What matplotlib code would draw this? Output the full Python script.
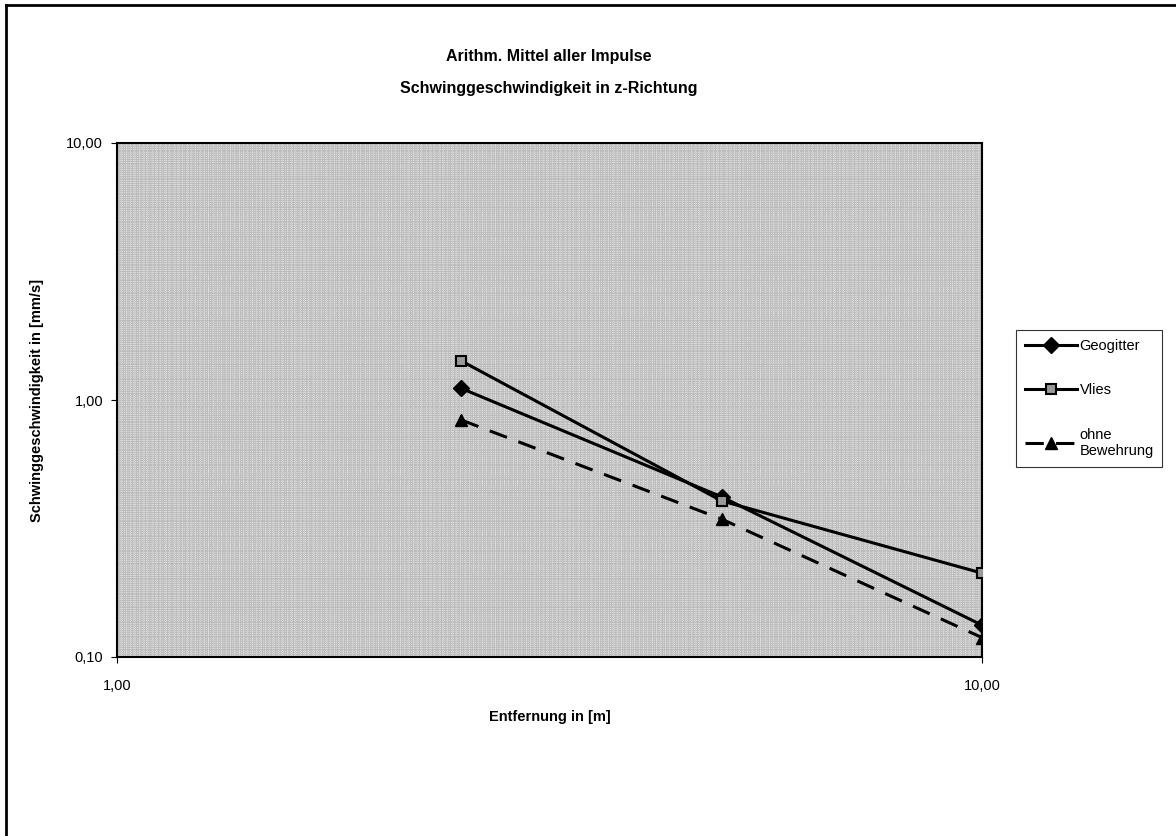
import numpy as np
import matplotlib.pyplot as plt
from matplotlib.lines import Line2D
from matplotlib.ticker import FixedLocator, NullFormatter

plt.rcParams['font.family'] = ['Liberation Sans', 'DejaVu Sans']

entfernung = [2.5, 5.0, 10.0]
geogitter = [1.11, 0.42, 0.133]
vlies = [1.42, 0.405, 0.212]
ohne = [0.836, 0.344, 0.119]
x_ticks = [1, 10]
x_labels = ['1,00', '10,00']
y_ticks = [0.1, 1, 10]
y_labels = ['0,10', '1,00', '10,00']

fig = plt.figure(figsize=(11.76, 8.36), dpi=100)
ax = fig.add_axes([117/1176, 1 - 657/836, 865/1176, 514/836])
ax.set_xscale('log')
ax.set_yscale('log')
ax.set_xlim(1, 10)
ax.set_ylim(0.1, 10)
ax.set_facecolor('#bdbdbd')

# dichtes, gleichmaessiges Raster wie im gerasterten Ausdruck
fx = 10 ** np.linspace(0, 1, 200)
fy = 10 ** np.linspace(-1, 1, 240)
ax.xaxis.set_minor_locator(FixedLocator(fx))
ax.yaxis.set_minor_locator(FixedLocator(fy))
ax.xaxis.set_minor_formatter(NullFormatter())
ax.yaxis.set_minor_formatter(NullFormatter())
ax.grid(True, which='minor', color='#ebebeb', lw=0.6, ls=':')
ax.grid(False, which='major')
ax.tick_params(which='minor', length=0)
ax.set_axisbelow(True)

ax.plot(entfernung, geogitter, color='black', lw=2.2, marker='D', ms=8,
        label='Geogitter', zorder=3)
ax.plot(entfernung, vlies, color='black', lw=2.2, marker='s', ms=7,
        mfc='#999999', mec='black', mew=1.5, label='Vlies', zorder=3)
ax.plot(entfernung, ohne, color='black', lw=2.2, ls=(0, (6, 4)), marker='^',
        ms=8, label='ohne\nBewehrung', zorder=3)

ax.set_xticks(x_ticks)
ax.set_xticklabels(x_labels)
ax.set_yticks(y_ticks)
ax.set_yticklabels(y_labels)
ax.tick_params(which='major', length=4, width=0.8, labelsize=10.5, direction='out')
ax.tick_params(axis='x', pad=12)
ax.tick_params(axis='y', pad=6)
for s in ax.spines.values():
    s.set_linewidth(1.5)

ax.set_xlabel('Entfernung in [m]', fontsize=10.5, fontweight='bold', labelpad=12)
ax.set_ylabel('Schwinggeschwindigkeit in [mm/s]', fontsize=10.5,
              fontweight='bold', labelpad=16)

fig.text(549/1176, 1 - 57/836, 'Arithm. Mittel aller Impulse', ha='center',
         va='center', fontsize=11.5, fontweight='bold')
fig.text(549/1176, 1 - 88/836, 'Schwinggeschwindigkeit in z-Richtung',
         ha='center', va='center', fontsize=11.5, fontweight='bold')

leg = ax.legend(loc='upper left', bbox_to_anchor=(1016/1176, 1 - 330/836),
                bbox_transform=fig.transFigure, frameon=True, fancybox=False,
                edgecolor='black', fontsize=10.5, handlelength=3.6,
                labelspacing=2.1, borderpad=0.6, handletextpad=0.15,
                borderaxespad=0)
leg.get_frame().set_linewidth(0.8)

# Rahmen des Diagrammbereichs (nur links und oben sichtbar)
fig.add_artist(Line2D([6/1176, 6/1176], [0, 1 - 5/836], color='black', lw=2))
fig.add_artist(Line2D([6/1176, 1], [1 - 5/836, 1 - 5/836], color='black', lw=2))

fig.savefig('out.png', dpi=100)
